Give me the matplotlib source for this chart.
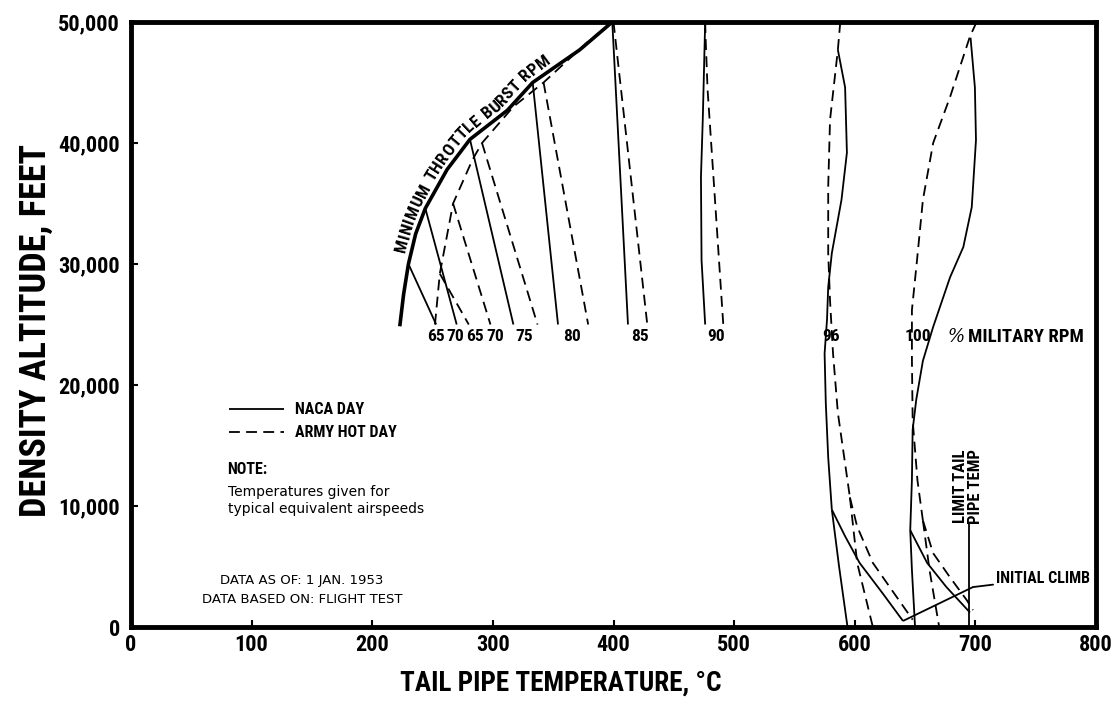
#!/usr/bin/env python
"""Tail pipe temperature versus density altitude (flight test data, 1953)."""

import numpy as np
import matplotlib
matplotlib.use("Agg")
import matplotlib.pyplot as plt
from matplotlib.lines import Line2D

plt.rcParams["font.family"] = ["Roboto Condensed", "Liberation Sans Narrow", "DejaVu Sans"]
plt.rcParams["font.stretch"] = "condensed"
plt.rcParams["font.weight"] = "bold"
plt.rcParams["axes.labelweight"] = "bold"

# Axes
x_ticks = [0, 100, 200, 300, 400, 500, 600, 700, 800]
y_ticks = [0, 10000, 20000, 30000, 40000, 50000]
y_tick_labels = ["0", "10,000", "20,000", "30,000", "40,000", "50,000"]

# Minimum throttle burst RPM envelope
burst_naca_t = [223, 226, 230, 236, 244, 262, 281, 312, 333, 372, 399]
burst_naca_alt = [25000, 27500, 30000, 32500, 34600, 37800, 40300, 42700, 45000, 47700, 50000]
burst_army_t = [252, 256, 267, 283, 291, 317, 342, 378, 399]
burst_army_alt = [25000, 29200, 35000, 38600, 40000, 43000, 45000, 48300, 50000]

# Part throttle RPM lines (65 .. 90 %)
naca_t = [[230, 253], [244, 270], [281, 317], [333, 354], [399, 412],
          [476, 474, 472.5, 473, 476]]
naca_alt = [[30000, 25000], [34600, 25000], [40300, 25000], [45000, 25000], [50000, 25000],
            [50000, 41900, 37200, 30300, 25000]]
army_t = [[256, 280], [267, 298], [291, 337], [342, 379], [400, 428],
          [476, 476.5, 478, 484, 491]]
army_alt = [[29200, 25000], [35000, 25000], [40000, 25000], [45000, 25000], [50000, 25000],
            [50000, 48300, 44400, 35500, 25000]]

# 96 % RPM
r96_naca_t = [586, 592, 593.5, 589, 581, 578, 577, 575, 576, 578, 581]
r96_naca_alt = [47700, 44600, 39200, 35300, 30900, 28100, 25400, 22600, 18500, 14000, 9700]
r96_naca_low_t = [581, 587, 594]
r96_naca_low_alt = [9700, 5000, 0]
r96_naca_climb_t = [581, 592, 604, 623, 640]
r96_naca_climb_alt = [9700, 7500, 5300, 2800, 500]
r96_army_t = [588, 586, 579.5, 578, 578, 579.5, 582, 586, 592, 596]
r96_army_alt = [50000, 47700, 41900, 36400, 30900, 27000, 22600, 17700, 13500, 10700]
r96_army_low_t = [596, 602, 615]
r96_army_low_alt = [10700, 5300, 0]
r96_army_climb_t = [596, 602, 615, 629, 648]
r96_army_climb_alt = [10700, 8300, 5300, 3300, 600]

# 100 % RPM
r100_naca_t = [696, 699.6, 700.5, 697, 690, 679, 665, 656.5, 651, 648, 647.4, 646]
r100_naca_alt = [48700, 44600, 40250, 34700, 31400, 28900, 24800, 22000, 18800, 16300, 12200, 8000]
r100_naca_low_t = [646, 647.4, 650]
r100_naca_low_alt = [8000, 4700, 0]
r100_naca_climb_t = [646, 660, 676, 695.5]
r100_naca_climb_alt = [8000, 5300, 3300, 1200]
r100_army_t = [701, 695.5, 679, 665, 656.5, 651.6, 647.4, 647.4, 648, 652, 656.5]
r100_army_alt = [50000, 48800, 43800, 40000, 35300, 30300, 26200, 22000, 17100, 12100, 8800]
r100_army_low_t = [656.5, 662, 670]
r100_army_low_alt = [8800, 4700, 0]
r100_army_climb_t = [656.5, 665, 679, 693, 698]
r100_army_climb_alt = [8800, 6100, 4100, 2200, 1400]

# Initial climb and limit tail pipe temperature
climb_t = [640, 698]
climb_alt = [500, 3300]
limit_t = [695, 695]
limit_alt = [0, 8600]

# RPM labels
rpm_labels = ["65", "70", "65", "70", "75", "80", "85", "90", "96", "100"]
rpm_label_t = [252.5, 269, 285, 302, 326, 366, 422, 485, 580, 652]
rpm_label_alt = 24000

SOLID = dict(color="black", lw=1.3, solid_capstyle="butt")
DASHED = dict(color="black", lw=1.3, ls=(0, (6, 3.5)))


def text_along(ax, text, xs, ys, start_alt, end_alt, offset, size):
    """Spread the characters of text along the polyline (xs, ys)."""
    renderer = ax.figure.canvas.get_renderer()
    pts = ax.transData.transform(np.column_stack([xs, ys]))
    d = np.diff(pts, axis=0)
    arc = np.concatenate([[0.0], np.cumsum(np.hypot(d[:, 0], d[:, 1]))])
    seg_mid = 0.5 * (arc[1:] + arc[:-1])
    seg_ang = np.arctan2(d[:, 1], d[:, 0])
    inv = ax.transData.inverted()

    items = []
    for ch in text:
        t = ax.text(0, 0, ch, fontsize=size, ha="center", va="center",
                    rotation_mode="anchor")
        if ch == " ":
            w = 0.3 * size * 100 / 72
        else:
            w = t.get_window_extent(renderer).width
        items.append((t, w))

    s0 = np.interp(start_alt, ys, arc)
    s1 = np.interp(end_alt, ys, arc)
    total = sum(w for _, w in items)
    gap = (s1 - s0 - total) / (len(items) - 1)
    s = s0
    for t, w in items:
        sm = s + w / 2
        px = np.interp(sm, arc, pts[:, 0])
        py = np.interp(sm, arc, pts[:, 1])
        a = np.interp(sm, seg_mid, seg_ang)
        px -= offset * np.sin(a)
        py += offset * np.cos(a)
        t.set_position(inv.transform((px, py)))
        t.set_rotation(np.degrees(a))
        s += w + gap


fig = plt.figure(figsize=(11.19, 7.06), dpi=100)
ax = fig.add_axes([131 / 1119, 1 - 627 / 706, 965 / 1119, 605 / 706])
ax.set_xlim(0, 800)
ax.set_ylim(0, 50000)

# Envelope
ax.plot(burst_naca_t, burst_naca_alt, color="black", lw=2.6)
ax.plot(burst_army_t, burst_army_alt, **DASHED)

# Part throttle lines
for t, a in zip(naca_t, naca_alt):
    ax.plot(t, a, **SOLID)
for t, a in zip(army_t, army_alt):
    ax.plot(t, a, **DASHED)

# 96 and 100 percent
for t, a in [(r96_naca_t, r96_naca_alt), (r96_naca_low_t, r96_naca_low_alt),
             (r96_naca_climb_t, r96_naca_climb_alt), (r100_naca_t, r100_naca_alt),
             (r100_naca_low_t, r100_naca_low_alt), (r100_naca_climb_t, r100_naca_climb_alt)]:
    ax.plot(t, a, **SOLID)
for t, a in [(r96_army_t, r96_army_alt), (r96_army_low_t, r96_army_low_alt),
             (r96_army_climb_t, r96_army_climb_alt), (r100_army_t, r100_army_alt),
             (r100_army_low_t, r100_army_low_alt), (r100_army_climb_t, r100_army_climb_alt)]:
    ax.plot(t, a, **DASHED)

ax.plot(climb_t, climb_alt, **SOLID)
ax.plot(limit_t, limit_alt, **SOLID)

# Labels on the lines
for lbl, t in zip(rpm_labels, rpm_label_t):
    ax.text(t, rpm_label_alt, lbl, fontsize=12.5, ha="center", va="center")
ax.text(684, rpm_label_alt, "%", fontsize=13, ha="center", va="center",
        family="DejaVu Serif", style="italic", weight="normal", stretch="normal")
ax.text(694, rpm_label_alt, "MILITARY RPM", fontsize=13.5, ha="left", va="center")

ax.annotate("INITIAL CLIMB", xy=(climb_t[-1], climb_alt[-1]), xytext=(717, 4000),
            fontsize=11.5, ha="left", va="center",
            arrowprops=dict(arrowstyle="-", color="black", lw=1.3,
                            shrinkA=0, shrinkB=0))
ax.text(limit_t[0] - 1, 11600, "LIMIT TAIL\nPIPE TEMP", fontsize=12, rotation=90,
        ha="center", va="center", multialignment="center", linespacing=0.95)

text_along(ax, "MINIMUM THROTTLE BURST RPM", burst_naca_t, burst_naca_alt,
           30800, 46300, 10, 12.5)

# Legend and notes
handles = [Line2D([], [], **SOLID), Line2D([], [], **DASHED)]
ax.legend(handles, ["NACA DAY", "ARMY HOT DAY"], loc="upper left",
          bbox_to_anchor=(0.087, 0.395), frameon=False, fontsize=11.5,
          handlelength=3.4, handletextpad=0.7, labelspacing=0.5)
ax.text(0.1, 0.26, "NOTE:", transform=ax.transAxes, fontsize=11.5, va="center")
ax.text(0.1, 0.235, "Temperatures given for\ntypical equivalent airspeeds",
        transform=ax.transAxes, fontsize=10, va="top", family="DejaVu Sans",
        weight="normal", stretch="normal", linespacing=1.3)
ax.text(0.177, 0.061, "DATA AS OF: 1 JAN. 1953\nDATA BASED ON: FLIGHT TEST",
        transform=ax.transAxes, fontsize=9.5, ha="center", va="center",
        family="DejaVu Sans", weight="normal", stretch="normal",
        multialignment="center", linespacing=1.6)

# Axes styling
ax.set_xticks(x_ticks)
ax.set_xticklabels([str(v) for v in x_ticks])
ax.set_yticks(y_ticks)
ax.set_yticklabels(y_tick_labels)
ax.tick_params(direction="in", length=5, width=1.5, labelsize=16, pad=5)
ax.tick_params(axis="y", pad=8)
for sp in ax.spines.values():
    sp.set_linewidth(3.5)

ax.set_xlabel("TAIL PIPE TEMPERATURE, \u00b0C", fontsize=19.5)
ax.xaxis.set_label_coords(0.445, -0.07)
ax.set_ylabel("DENSITY ALTITUDE, FEET", fontsize=26)
ax.yaxis.set_label_coords(-0.08, 0.49)

fig.savefig("out.png", dpi=100)
